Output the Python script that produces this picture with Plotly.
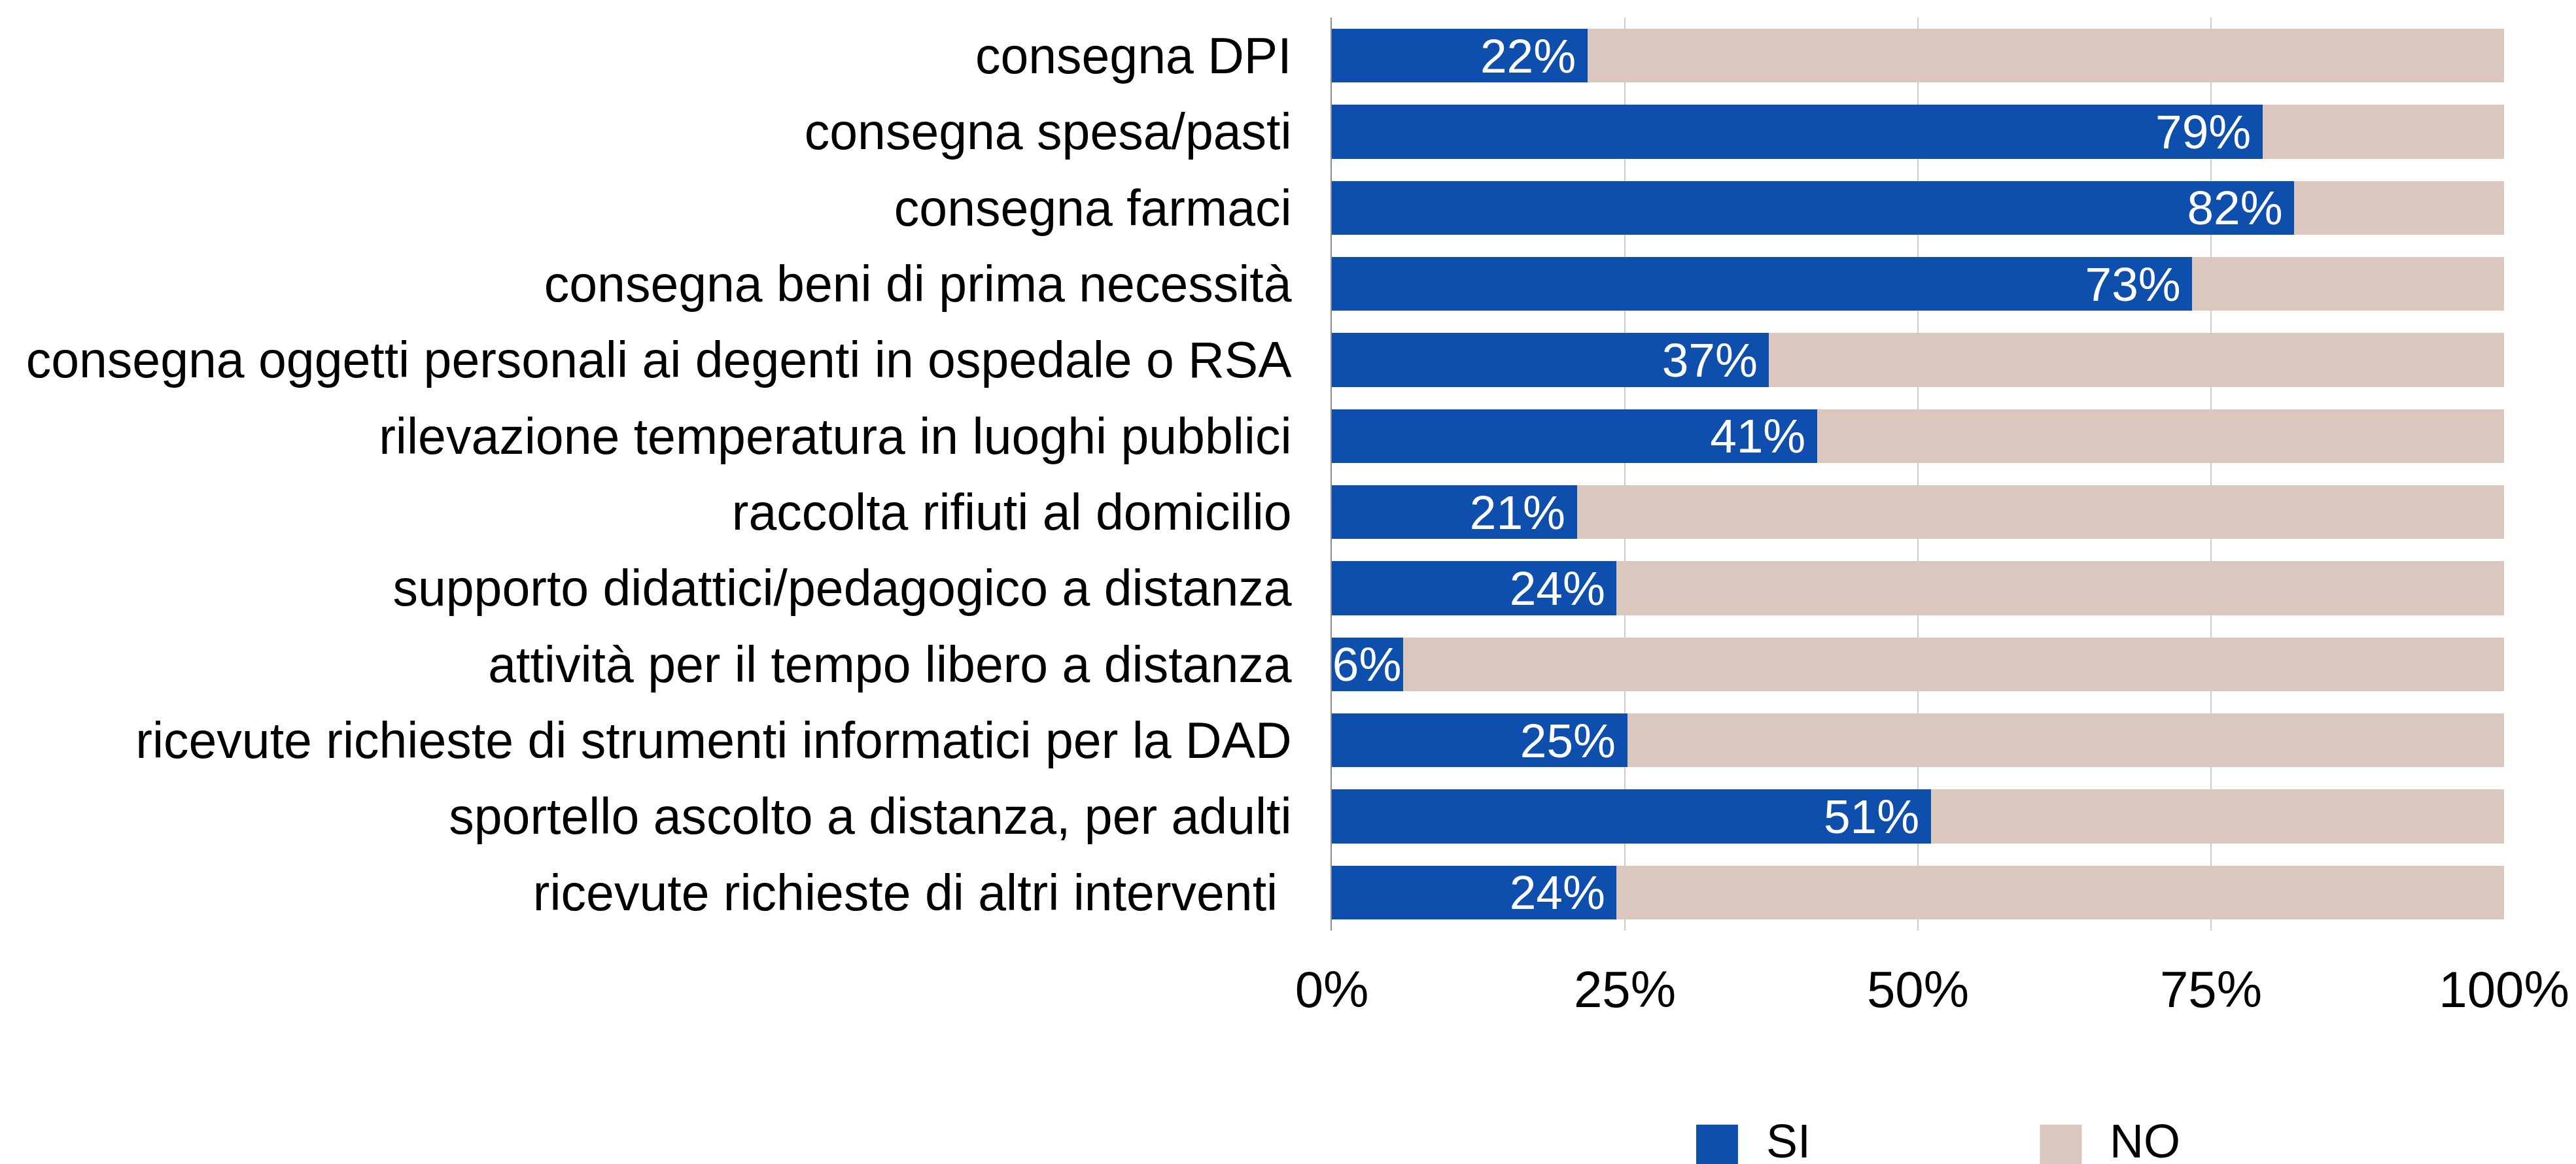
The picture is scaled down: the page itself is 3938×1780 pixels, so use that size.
import plotly.graph_objects as go

categories = [
    "consegna DPI",
    "consegna spesa/pasti",
    "consegna farmaci",
    "consegna beni di prima necessità",
    "consegna oggetti personali ai degenti in ospedale o RSA",
    "rilevazione temperatura in luoghi pubblici",
    "raccolta rifiuti al domicilio",
    "supporto didattici/pedagogico a distanza",
    "attività per il tempo libero a distanza",
    "ricevute richieste di strumenti informatici per la DAD",
    "sportello ascolto a distanza, per adulti",
    "ricevute richieste di altri interventi ",
]
si_values = [21.8, 79.4, 82.1, 73.4, 37.3, 41.4, 20.9, 24.3, 6.1, 25.2, 51.1, 24.3]
no_values = [78.2, 20.6, 17.9, 26.6, 62.7, 58.6, 79.1, 75.7, 93.9, 74.8, 48.9, 75.7]
si_labels = ["22%", "79%", "82%", "73%", "37%", "41%", "21%", "24%", "6%", "25%", "51%", "24%"]
series_names = ["SI", "NO"]
series_colors = ["#0E4FAD", "#DAC8BF"]
x_ticks = [0, 25, 50, 75, 100]
x_tick_labels = ["0%", "25%", "50%", "75%", "100%"]

FONT = "Liberation Sans, Arial, sans-serif"

# a thin trailing pad for labels on wide bars
label_text = [t + ("\u2009" if v > 10 else "") for t, v in zip(si_labels, si_values)]

fig = go.Figure()
fig.add_trace(go.Bar(
    y=categories, x=si_values, orientation="h", name=series_names[0],
    marker=dict(color=series_colors[0], line=dict(width=0)),
    text=label_text, textposition="inside",
    insidetextanchor="end", constraintext="none", cliponaxis=False,
    textfont=dict(family=FONT, size=73, color="white"),
    showlegend=False, hoverinfo="skip",
))
fig.add_trace(go.Bar(
    y=categories, x=no_values, orientation="h", name=series_names[1],
    marker=dict(color=series_colors[1], line=dict(width=0)),
    showlegend=False, hoverinfo="skip",
))

# custom legend (large square symbols)
legend_x = [0.3108, 0.6040]
for i, (name, col) in enumerate(zip(series_names, series_colors)):
    x0 = legend_x[i]
    fig.add_shape(type="rect", xref="paper", yref="paper",
                  x0=x0, x1=x0 + 0.0357, y0=-0.2575, y1=-0.2125,
                  fillcolor=col, line=dict(width=0), layer="above")
    fig.add_annotation(xref="paper", yref="paper", x=x0 + 0.0585, y=-0.231,
                       text=name, showarrow=False, xanchor="left", yanchor="middle",
                       font=dict(family=FONT, size=72, color="black"))

fig.update_layout(
    barmode="stack",
    bargap=0.29,
    width=3938, height=1780,
    margin=dict(l=2028, r=118, t=19, b=365, autoexpand=False),
    paper_bgcolor="white", plot_bgcolor="white",
    font=dict(family=FONT, color="black"),
    showlegend=False,
)
fig.update_xaxes(
    range=[0, 100], tickvals=x_ticks, ticktext=x_tick_labels,
    showgrid=True, gridcolor="#CCCCCC", gridwidth=1.5,
    zeroline=False, showline=False, ticks="",
    tickfont=dict(family=FONT, size=78, color="black"),
    ticklabelstandoff=38,
)
fig.update_yaxes(
    autorange="reversed", showgrid=False, zeroline=False,
    showline=True, linecolor="#8C8C8C", linewidth=2, ticks="",
    tickfont=dict(family=FONT, size=77, color="black"),
    ticklabelstandoff=44,
)

fig.write_html("out.html")
